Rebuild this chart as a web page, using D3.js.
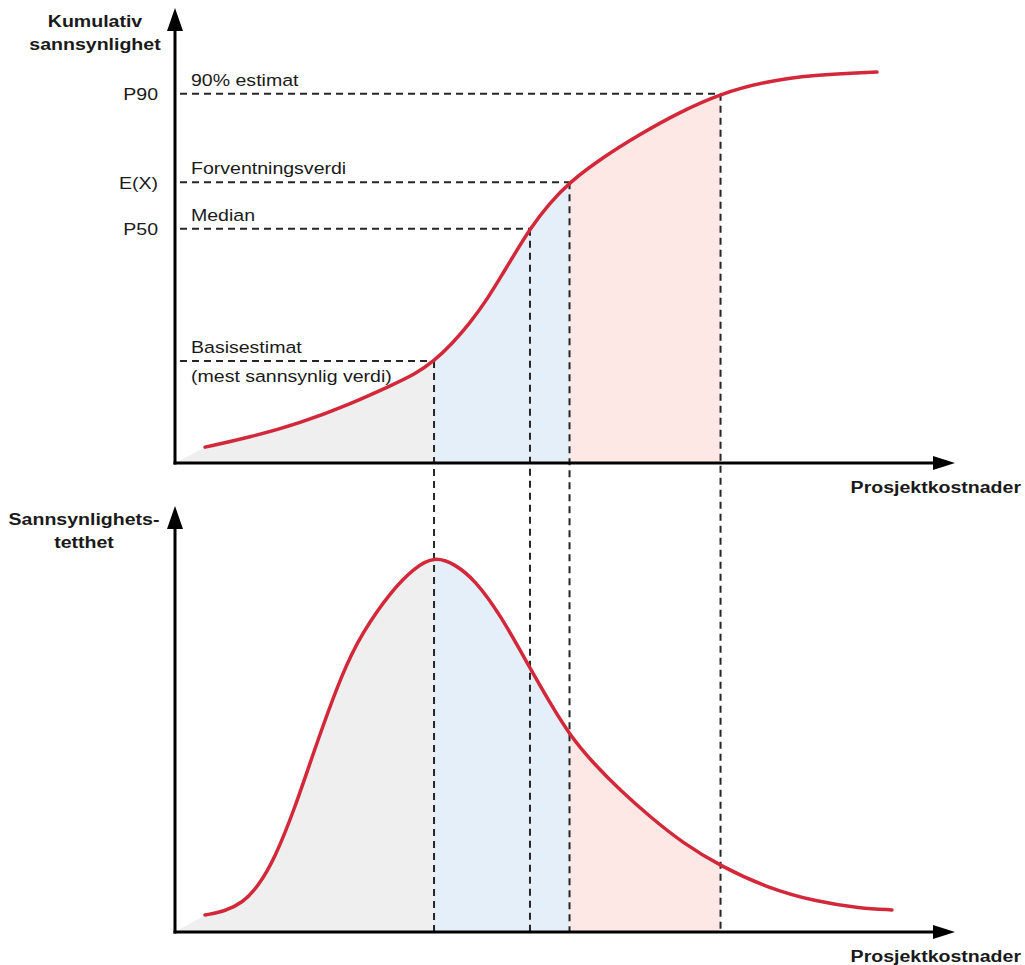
<!DOCTYPE html>
<html>
<head>
<meta charset="utf-8">
<script src="https://cdn.jsdelivr.net/npm/d3@7"></script>
<style>
  html, body { margin: 0; padding: 0; background: #fff; }
  svg { display: block; }
  text { font-family: "Liberation Sans", Arial, Helvetica, sans-serif; fill: #1a1a1a; }
</style>
</head>
<body>
<svg id="chart" width="1025" height="965"></svg>
<script>
// ---- Data (schematic units) ----
// x: project cost, 0..100 ; top y: cumulative probability (0..1 of axis height)
const costTop = [3.85, 9.62, 16.03, 22.44, 27.56, 30.77, 33.21, 35.51, 37.82, 40.13, 42.05, 43.85, 45.51, 47.95, 50.58, 54.87, 59.62, 64.74, 69.94, 75.38, 81.79, 90.0];
const probTop = [0.035, 0.057, 0.088, 0.130, 0.170, 0.196, 0.225, 0.263, 0.309, 0.364, 0.419, 0.470, 0.517, 0.572, 0.620, 0.675, 0.726, 0.775, 0.815, 0.841, 0.857, 0.863];

// bottom y: probability density (0..1 of axis height)
const costBottom = [3.85, 6.41, 8.59, 10.64, 12.82, 15.38, 17.95, 21.41, 23.97, 27.82, 30.77, 33.21, 35.90, 38.46, 41.67, 45.51, 48.08, 50.58, 53.59, 57.05, 60.90, 65.13, 69.94, 75.90, 82.31, 87.82, 91.92];
const densityBottom = [0.040, 0.049, 0.068, 0.106, 0.174, 0.292, 0.433, 0.609, 0.704, 0.805, 0.858, 0.884, 0.866, 0.828, 0.748, 0.621, 0.539, 0.464, 0.398, 0.334, 0.271, 0.209, 0.155, 0.104, 0.071, 0.056, 0.052];

// markers: basis estimate, P50 (median), E(X), P90
const markerCost = [33.21, 45.51, 50.58, 69.94];
const markerProb = [0.225, 0.517, 0.620, 0.815];
const tickLabels = ["", "P50", "E(X)", "P90"];
const markerNotes = [["Basisestimat", "(mest sannsynlig verdi)"], ["Median"], ["Forventningsverdi"], ["90% estimat"]];

const topYTitle = ["Kumulativ", "sannsynlighet"];
const bottomYTitle = ["Sannsynlighets-", "tetthet"];
const xTitle = "Prosjektkostnader";

// ---- Layout ----
const svg = d3.select("#chart");
const SX = 1.15; // horizontal text stretch
const x = d3.scaleLinear().domain([0, 100]).range([175, 955]);
const yTop = d3.scaleLinear().domain([0, 1]).range([463, 10]);
const yBot = d3.scaleLinear().domain([0, 1]).range([932, 507]);

const red = "#d2283a";
const fills = ["#efefef", "#e4eff9", "#fde8e6"];
const regions = [[0, markerCost[0]], [markerCost[0], markerCost[2]], [markerCost[2], markerCost[3]]];

const defs = svg.append("defs");
function addClips(prefix, y0, y1) {
  regions.forEach((r, i) => {
    defs.append("clipPath").attr("id", prefix + i)
      .append("rect")
      .attr("x", x(r[0])).attr("y", y1)
      .attr("width", x(r[1]) - x(r[0])).attr("height", y0 - y1);
  });
}
addClips("ct", yTop(0), 0);
addClips("cb", yBot(0), 480);

function drawPanel(prefix, xs, ys, yScale) {
  const pts = xs.map((c, i) => [c, ys[i]]);
  const line = d3.line().x(d => x(d[0])).y(d => yScale(d[1])).curve(d3.curveBasis);
  const areaPath = line(pts) + `L${x(xs[xs.length - 1])},${yScale(0)}L${x(0)},${yScale(0)}Z`;
  const gFill = svg.append("g");
  regions.forEach((r, i) => {
    gFill.append("path").attr("d", areaPath).attr("fill", fills[i]).attr("clip-path", `url(#${prefix}${i})`);
  });
  return line(pts);
}

const topLine = drawPanel("ct", costTop, probTop, yTop);
const botLine = drawPanel("cb", costBottom, densityBottom, yBot);

// dashed guides
const dash = svg.append("g").attr("stroke", "#262626").attr("stroke-width", 2).attr("stroke-dasharray", "7,5").attr("fill", "none");
markerCost.forEach((c, i) => {
  dash.append("line").attr("x1", 180).attr("x2", x(c)).attr("y1", yTop(markerProb[i])).attr("y2", yTop(markerProb[i]));
  dash.append("line").attr("x1", x(c)).attr("x2", x(c)).attr("y1", yTop(markerProb[i])).attr("y2", yBot(0));
});

// curves
svg.append("path").attr("d", topLine).attr("fill", "none").attr("stroke", red).attr("stroke-width", 3.5).attr("stroke-linecap", "round");
svg.append("path").attr("d", botLine).attr("fill", "none").attr("stroke", red).attr("stroke-width", 3.5).attr("stroke-linecap", "round");

// axes with arrows
function arrowAxes(y0, yTip) {
  const g = svg.append("g");
  g.append("line").attr("x1", x(0)).attr("x2", x(0)).attr("y1", y0 + 1.5).attr("y2", yTip + 15).attr("stroke", "#000").attr("stroke-width", 3);
  g.append("path").attr("d", `M${x(0)},${yTip}L${x(0) - 8},${yTip + 23}L${x(0) + 8},${yTip + 23}Z`).attr("fill", "#000");
  g.append("line").attr("x1", x(0) - 1.5).attr("x2", x(100) - 15).attr("y1", y0).attr("y2", y0).attr("stroke", "#000").attr("stroke-width", 3);
  g.append("path").attr("d", `M${x(100)},${y0}L${x(100) - 22},${y0 - 7}L${x(100) - 22},${y0 + 7}Z`).attr("fill", "#000");
}
arrowAxes(yTop(0), 8);
arrowAxes(yBot(0), 506);

// y tick labels on top panel
const tickIdx = [1, 2, 3];
const yAxis = d3.axisLeft(yTop)
  .tickValues(tickIdx.map(i => markerProb[i]))
  .tickFormat((d, j) => tickLabels[tickIdx[j]])
  .tickSize(0).tickPadding(0);
const ag = svg.append("g").attr("transform", `translate(${x(0)},0)`).call(yAxis);
ag.select(".domain").remove();
ag.selectAll("text")
  .attr("x", -17 / SX).attr("dy", "0.35em")
  .attr("transform", `scale(${SX},1)`)
  .style("font-size", "17px").style("fill", "#1a1a1a")
  .style("font-family", '"Liberation Sans", Arial, sans-serif');

// helper for stretched text
function txt(str, px, py, anchor, bold) {
  svg.append("text")
    .attr("transform", `translate(${px},${py}) scale(${SX},1)`)
    .attr("text-anchor", anchor)
    .style("font-size", "17px")
    .style("font-weight", bold ? "bold" : "normal")
    .text(str);
}

// marker notes
markerNotes.forEach((lines, i) => {
  const yy = yTop(markerProb[i]);
  txt(lines[0], 191, yy - 8, "start", false);
  if (lines[1]) txt(lines[1], 191, yy + 21, "start", false);
});

// titles
txt(topYTitle[0], 95, 27, "middle", true);
txt(topYTitle[1], 95, 50, "middle", true);
txt(bottomYTitle[0], 84, 525, "middle", true);
txt(bottomYTitle[1], 84, 548, "middle", true);
txt(xTitle, 1021, 493, "end", true);
txt(xTitle, 1021, 962, "end", true);
</script>
</body>
</html>
